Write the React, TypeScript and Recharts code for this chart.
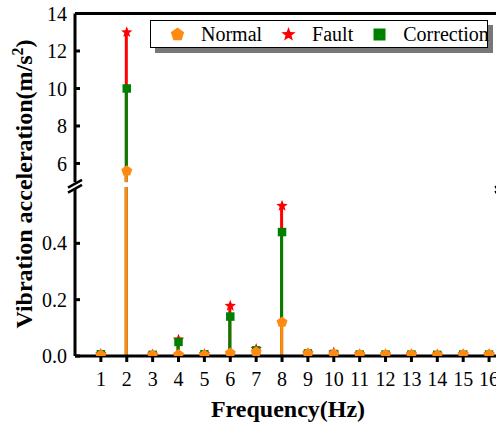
import { ComposedChart, Bar, Line, XAxis, YAxis, ReferenceLine, Legend } from "recharts";

// frequency bins (Hz)
const frequencies = [1, 2, 3, 4, 5, 6, 7, 8, 9, 10, 11, 12, 13, 14, 15, 16];

// vibration acceleration (m/s^2)
const normal = [0.003, 5.6, 0.003, 0.004, 0.003, 0.01, 0.014, 0.12, 0.008, 0.006, 0.004, 0.004, 0.004, 0.003, 0.004, 0.004];
const fault = [0.007, 13, 0.005, 0.058, 0.007, 0.178, 0.025, 0.533, 0.01, 0.012, 0.006, 0.006, 0.006, 0.005, 0.006, 0.006];
const correction = [0.006, 10, 0.004, 0.05, 0.006, 0.14, 0.02, 0.44, 0.009, 0.007, 0.005, 0.005, 0.005, 0.004, 0.005, 0.005];

const upperTicks = [6, 8, 10, 12, 14];
const lowerTicks = [0, 0.2, 0.4];

const UPPER_DOMAIN: [number, number] = [5, 14];
const LOWER_DOMAIN: [number, number] = [0, 0.6];
const X_DOMAIN: [number, number] = [0, 16.5];

const FONT = '"Liberation Serif", "Times New Roman", Times, serif';
const ORANGE = "#FF8A12";
const RED = "#FF0000";
const GREEN = "#008000";

type Shape = "pentagon" | "star" | "square";

const series: { key: string; name: string; color: string; shape: Shape; values: number[] }[] = [
  { key: "normal", name: "Normal", color: ORANGE, shape: "pentagon", values: normal },
  { key: "fault", name: "Fault", color: RED, shape: "star", values: fault },
  { key: "correction", name: "Correction", color: GREEN, shape: "square", values: correction },
];

// draw order: fault below, correction, normal on top
const drawOrder = ["fault", "correction", "normal"];

const upperRows = frequencies.map((f, i) => {
  const row: any = { freq: f };
  for (const s of series) {
    const v = s.values[i];
    row[s.key] = v >= UPPER_DOMAIN[0] ? v : null;
    row[s.key + "Mark"] = v >= UPPER_DOMAIN[0] ? v : null;
  }
  return row;
});

const lowerRows = frequencies.map((f, i) => {
  const row: any = { freq: f };
  for (const s of series) {
    const v = s.values[i];
    row[s.key] = v;
    row[s.key + "Mark"] = v <= LOWER_DOMAIN[1] ? v : null;
  }
  return row;
});

function regularPoints(cx: number, cy: number, r: number, n: number) {
  const pts: string[] = [];
  for (let k = 0; k < n; k++) {
    const a = -Math.PI / 2 + (k * 2 * Math.PI) / n;
    pts.push(`${cx + r * Math.cos(a)},${cy + r * Math.sin(a)}`);
  }
  return pts.join(" ");
}

function starPoints(cx: number, cy: number, R: number, r: number) {
  const pts: string[] = [];
  for (let k = 0; k < 10; k++) {
    const a = -Math.PI / 2 + (k * Math.PI) / 5;
    const rad = k % 2 === 0 ? R : r;
    pts.push(`${cx + rad * Math.cos(a)},${cy + rad * Math.sin(a)}`);
  }
  return pts.join(" ");
}

function Marker({ shape, cx, cy, size, color }: { shape: Shape; cx: number; cy: number; size: number; color: string }) {
  if (shape === "square") {
    return <rect x={cx - size / 2} y={cy - size / 2} width={size} height={size} fill={color} />;
  }
  if (shape === "star") {
    return <polygon points={starPoints(cx, cy, size / 2, size * 0.21)} fill={color} />;
  }
  return <polygon points={regularPoints(cx, cy, size / 2, 5)} fill={color} />;
}

const plotSizes: Record<Shape, number> = { pentagon: 11.5, star: 12, square: 8.5 };
const legendSizes: Record<Shape, number> = { pentagon: 14, star: 15, square: 12 };

function dotRenderer(shape: Shape, color: string) {
  return (p: any) => {
    const { cx, cy, value, index } = p;
    if (value == null || cy == null || Number.isNaN(cy)) return <g key={`d-${index}`} />;
    return (
      <g key={`d-${index}`}>
        <Marker shape={shape} cx={cx} cy={cy} size={plotSizes[shape]} color={color} />
      </g>
    );
  };
}

function LegendBox() {
  return (
    <div
      style={{
        width: 338,
        height: 28,
        boxSizing: "border-box",
        border: "1.5px solid #000",
        background: "#fff",
        boxShadow: "5px 5px 0 #777",
        display: "flex",
        alignItems: "center",
        paddingLeft: 19,
        fontFamily: FONT,
        fontSize: 20,
        color: "#000",
        whiteSpace: "nowrap",
      }}
    >
      {series.map((s) => (
        <div key={s.key} style={{ display: "flex", alignItems: "center", marginRight: 19 }}>
          <svg width={15} height={15} style={{ display: "block" }}>
            <Marker shape={s.shape} cx={7.5} cy={7.5} size={legendSizes[s.shape]} color={s.color} />
          </svg>
          <span style={{ marginLeft: 16 }}>{s.name}</span>
        </div>
      ))}
    </div>
  );
}

const tickStyle = { fill: "#000", fontSize: 20, fontFamily: FONT };
const axisStroke = { stroke: "#000", strokeWidth: 3 };

function series_(key: string) {
  return series.find((s) => s.key === key)!;
}

function Stems() {
  return drawOrder.map((k) => (
    <Bar key={k} dataKey={k} fill={series_(k).color} barSize={3} isAnimationActive={false} />
  ));
}

function Marks() {
  return drawOrder.map((k) => (
    <Line
      key={k + "Mark"}
      dataKey={k + "Mark"}
      stroke="none"
      dot={dotRenderer(series_(k).shape, series_(k).color)}
      activeDot={false}
      isAnimationActive={false}
    />
  ));
}

function BreakMark({ x, y }: { x: number; y: number }) {
  const w = 7;
  const s = 2.6;
  return (
    <g>
      <polygon
        points={`${x - w},${y + s} ${x + w},${y - s - 2.5} ${x + w},${y - s + 2.5} ${x - w},${y + s + 5}`}
        fill="#fff"
      />
      <line x1={x - w} y1={y + s} x2={x + w} y2={y - s - 2.5} stroke="#000" strokeWidth={2.5} />
      <line x1={x - w} y1={y + s + 5} x2={x + w} y2={y - s + 2.5} stroke="#000" strokeWidth={2.5} />
    </g>
  );
}

export default function App() {
  const chartWidth = 540;
  const margin = { left: 35, right: 38 };
  return (
    <div
      style={{
        position: "absolute",
        left: 0,
        top: 0,
        width: 496,
        height: 427,
        overflow: "hidden",
        background: "#fff",
        fontFamily: FONT,
      }}
    >
      <div style={{ position: "absolute", left: 0, top: 0 }}>
        <ComposedChart
          width={chartWidth}
          height={184}
          data={upperRows}
          barGap={-3}
          margin={{ top: 13.5, right: margin.right, bottom: 1.8, left: margin.left }}
        >
          <XAxis dataKey="freq" type="number" domain={X_DOMAIN} ticks={frequencies} hide />
          <YAxis
            type="number"
            domain={UPPER_DOMAIN}
            ticks={upperTicks}
            allowDataOverflow
            width={40}
            axisLine={axisStroke}
            tickLine={axisStroke}
            tickSize={-5}
            tickMargin={13}
            tick={tickStyle}
            interval={0}
          />
          <ReferenceLine y={14} stroke="#000" strokeWidth={3} />
          {Stems()}
          {Marks()}
          <Legend
            layout="horizontal"
            verticalAlign="middle"
            align="center"
            content={() => <LegendBox />}
            wrapperStyle={{ top: 20, left: 150, width: 338 }}
          />
        </ComposedChart>
      </div>
      <div style={{ position: "absolute", left: 0, top: 184 }}>
        <ComposedChart
          width={chartWidth}
          height={243}
          data={lowerRows}
          barGap={-3}
          margin={{ top: 3, right: margin.right, bottom: 41, left: margin.left }}
        >
          <XAxis
            dataKey="freq"
            type="number"
            domain={X_DOMAIN}
            ticks={frequencies}
            interval={0}
            height={30}
            axisLine={axisStroke}
            tickLine={axisStroke}
            tickSize={6}
            tickMargin={10}
            tick={tickStyle}
          />
          <YAxis
            type="number"
            domain={LOWER_DOMAIN}
            ticks={lowerTicks}
            allowDataOverflow
            width={40}
            axisLine={axisStroke}
            tickLine={axisStroke}
            tickSize={-5}
            tickMargin={13}
            tick={tickStyle}
            interval={0}
            tickFormatter={(v: number) => v.toFixed(1)}
          />
          {Stems()}
          {Marks()}
        </ComposedChart>
      </div>
      <svg
        width={496}
        height={427}
        style={{ position: "absolute", left: 0, top: 0, pointerEvents: "none" }}
      >
        <BreakMark x={75} y={185} />
        <BreakMark x={502} y={185} />
        <text
          transform="translate(32,184) rotate(-90)"
          textAnchor="middle"
          fontFamily={FONT}
          fontWeight="bold"
          fontSize={24}
          fill="#000"
        >
          Vibration acceleration(m/s
          <tspan fontSize={16} dy={-9}>2</tspan>
          <tspan dy={9}>)</tspan>
        </text>
        <text x={288} y={417} textAnchor="middle" fontFamily={FONT} fontWeight="bold" fontSize={24} fill="#000">
          Frequency(Hz)
        </text>
      </svg>
    </div>
  );
}
